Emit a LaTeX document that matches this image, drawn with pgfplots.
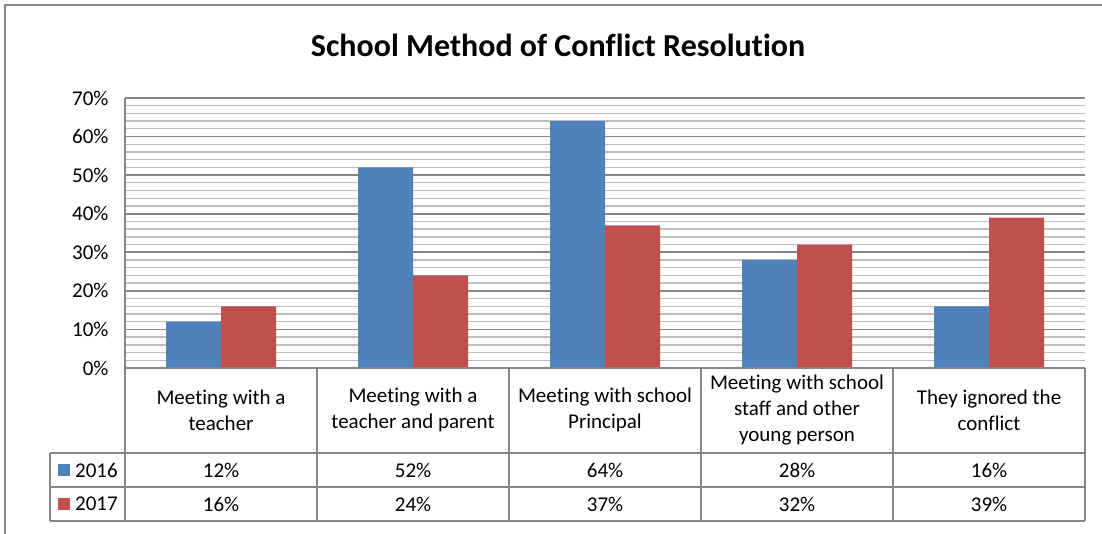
\documentclass[border=0pt]{standalone}
\usepackage{fontspec}
\setmainfont[Ligatures=NoCommon]{Carlito}
\usepackage{pgfplots}
\usepackage{pgfplotstable}
\pgfplotsset{compat=1.18}
\definecolor{c16}{HTML}{4F81BD}
\definecolor{c17}{HTML}{C0504D}
\definecolor{grida}{HTML}{868686}
\definecolor{gridb}{HTML}{BDBDBD}
\pgfplotstableread{
x v16 v17
0 12 16
1 52 24
2 64 37
3 28 32
4 16 39
}\datatable
\begin{document}
\begin{tikzpicture}[x=1pt,y=1pt]
\path[use as bounding box] (0,0) rectangle (1102,534);
\draw[grida, line width=1.5pt] (5,0) -- (5,529) -- (1102,529);
\node[font=\fontsize{32}{38}\selectfont\bfseries] at (558,489) {School Method of Conflict Resolution};
\begin{axis}[at={(125pt,166pt)}, anchor=south west, scale only axis,
  width=960pt, height=270pt,
  xmin=-0.5, xmax=4.5, ymin=0, ymax=70, clip=false,
  axis x line*=bottom, axis y line*=left,
  axis line style={grida, line width=1.5pt, -},
  ytick={0,10,...,70}, minor y tick num=4, ymajorgrids, yminorgrids,
  major grid style={grida, line width=1.6pt},
  minor grid style={gridb, line width=1.3pt},
  major tick length=0pt, minor tick length=0pt,
  /pgf/number format/assume math mode=true,
  yticklabel={\pgfmathprintnumber{\tick}\%},
  yticklabel style={xshift=-13pt},
  xtick={0,1,2,3,4},
  xticklabels={{Meeting with a\\teacher},{Meeting with a\\teacher and parent},{Meeting with school\\Principal},{Meeting with school\\staff and other\\young person},{They ignored the\\conflict}},
  xticklabel style={align=center, anchor=center, yshift=-42pt},
  tick label style={font=\fontsize{21}{26}\selectfont},
  every node near coord/.append style={anchor=center, font=\fontsize{21}{26}\selectfont},
]
\addplot[ybar, bar width=55pt, bar shift=-27.5pt, fill=c16, draw=none] table[x=x, y=v16] {\datatable};
\addplot[ybar, bar width=55pt, bar shift=27.5pt, fill=c17, draw=none] table[x=x, y=v17] {\datatable};
\addplot[draw=none, mark=none, nodes near coords={\pgfmathprintnumber[fixed,precision=0]{\pgfplotspointmeta}\%}, point meta={\thisrow{v16}}] table[x=x, y expr=-26.44] {\datatable};
\addplot[draw=none, mark=none, nodes near coords={\pgfmathprintnumber[fixed,precision=0]{\pgfplotspointmeta}\%}, point meta={\thisrow{v17}}] table[x=x, y expr=-35.26] {\datatable};
\end{axis}
\begin{scope}[grida, line width=1.5pt]
\draw (125,166) -- (1085,166);
\draw (50,81) -- (1085,81);
\draw (50,47) -- (1085,47);
\draw (50,13) -- (1085,13);
\foreach \xx in {125,317,509,701,893,1085} {\draw (\xx,166) -- (\xx,13);}
\draw (50,81) -- (50,13);
\end{scope}
\fill[c16] (58,58) rectangle (70,70);
\fill[c17] (58,24) rectangle (70,36);
\node[anchor=west, inner sep=0pt, font=\fontsize{21}{26}\selectfont] at (75,64) {2016};
\node[anchor=west, inner sep=0pt, font=\fontsize{21}{26}\selectfont] at (75,30) {2017};
\end{tikzpicture}
\end{document}
